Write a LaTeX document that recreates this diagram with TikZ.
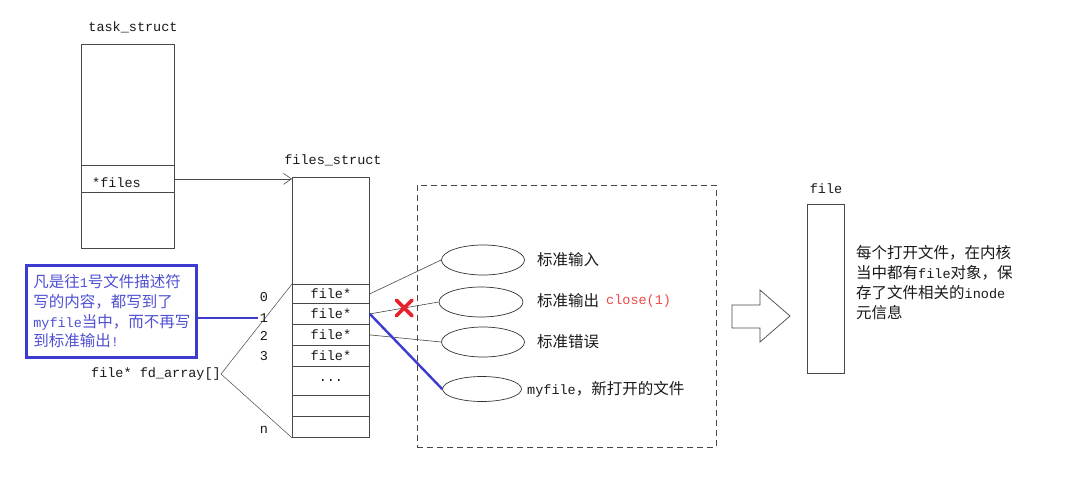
\documentclass[tikz,border=0pt]{standalone}
\usepackage{fontspec}
\setmainfont{Liberation Mono}
\newfontfamily\cjk{Noto Sans CJK SC}
\usetikzlibrary{shapes.geometric,shapes.misc,arrows.meta}
\newcommand\zh[1]{{\cjk\fontsize{15.5}{19.7}\selectfont #1}}
\newcommand\en[1]{{\fontsize{13.5}{19.7}\selectfont #1}}
\definecolor{lc}{HTML}{484848}
\definecolor{bl}{HTML}{3C3CD0}
\definecolor{bt}{HTML}{5050D4}
\definecolor{rd}{HTML}{E8202A}
\definecolor{rt}{HTML}{F04848}
\begin{document}
\begin{tikzpicture}[x=1pt,y=-1pt,
  box/.style={draw=lc, line width=0.8pt, inner sep=0pt, anchor=north west},
  row/.style={box, minimum width=77pt, font=\fontsize{13.5}{16}\selectfont, text=black!90},
  lbl/.style={inner sep=0pt, font=\fontsize{13.5}{16}\selectfont, text=black!90},
  txt/.style={inner sep=0pt, anchor=west, text=black!90},
  ell/.style={ellipse, draw=black!80, line width=0.7pt, inner sep=0pt},
  link/.style={draw=lc, line width=0.6pt},
  bluelink/.style={draw=bl, line width=2.4pt},
]
\useasboundingbox[fill=white] (0,0) rectangle (1092,485);

% task_struct
\node[lbl] (tst) at (133,27) {task\_struct};
\node[box, minimum width=93pt, minimum height=204pt] (ts) at (81,44) {};
\node[box, minimum width=93pt, minimum height=27pt] (tsf) at (81,165) {};
\node[lbl, anchor=west] (tsft) at (92,183) {*files};

% files_struct
\node[lbl] (fst) at (333,160) {files\_struct};
\node[box, minimum width=77pt, minimum height=260pt] (fs) at (292,177) {};
\node[row, minimum height=19pt] (r0) at (292,284) {file*};
\node[row, minimum height=21pt] (r1) at (292,303) {file*};
\node[row, minimum height=21pt] (r2) at (292,324) {file*};
\node[row, minimum height=21pt] (r3) at (292,345) {file*};
\node[row, minimum height=29pt] (rd) at (292,366) {...};
\node[row, minimum height=21pt] (r5) at (292,395) {};
\node[row, minimum height=21pt] (rn) at (292,416) {};

\draw[link, -{Straight Barb[length=8pt,width=11pt]}] (tsf.east) -- (fs.west |- tsf.east);

% indices
\node[lbl] (i0) at (264,297) {0};
\node[lbl] (i1) at (264,318) {1};
\node[lbl] (i2) at (264,336) {2};
\node[lbl] (i3) at (264,356) {3};
\node[lbl] (in) at (264,430) {n};

\node[lbl] (fa) at (156,374) {file* fd\_array[]};
\draw[link, line width=0.5pt] (fa.east) -- (r0.north west);
\draw[link, line width=0.5pt] (fa.east) -- (rn.south west);

% blue note
\node[draw=bl, line width=2.6pt, minimum width=170pt, minimum height=92pt, anchor=north west, inner sep=0pt, text width=156pt, align=left, text=bt, font=\fontsize{13.5}{19.7}\selectfont] (bb) at (25,264)
{\zh{凡是往}\en{1}\zh{号文件描述符}\\
 \zh{写的内容，都写到了}\\
 \en{myfile}\zh{当中，而不再写}\\
 \zh{到标准输出}\en{!}};
\draw[bluelink, shorten >=2pt] (bb.east |- i1.west) -- (i1.west);

% dashed region
\node[draw=lc, dash pattern=on 6pt off 4pt, line width=0.8pt, minimum width=299pt, minimum height=262pt, anchor=north west, inner sep=0pt] (db) at (417,185) {};

% ellipses
\node[ell, minimum width=83pt, minimum height=30pt] (e1) at (483,260) {};
\node[ell, minimum width=84pt, minimum height=30pt] (e2) at (481,302) {};
\node[ell, minimum width=83pt, minimum height=30pt] (e3) at (483,342) {};
\node[ell, minimum width=79pt, minimum height=25pt] (e4) at (482,389) {};

\node[txt] (t1) at (537,260) {\zh{标准输入}};
\node[txt] (t2) at (537,301) {\zh{标准输出}};
\node[txt, text=rt] (t2c) at (606,301) {\en{close(1)}};
\node[txt] (t3) at (537,342) {\zh{标准错误}};
\node[txt] (t4) at (527,389) {\en{myfile}\zh{，新打开的文件}};

% connectors
\draw[link] (r0.east) -- (e1.west);
\draw[link] (r1.east) -- node[cross out, draw=rd, line width=3.6pt, line cap=round, minimum size=12pt, inner sep=0pt, pos=0.5] (xx) {} (e2.west);
\draw[link] (r2.east) -- (e3.west);
\draw[bluelink] (r1.east) -- (e4.west);

% block arrow
\draw[draw=lc, line width=0.7pt] (732,305) -- (760,305) -- (760,290) -- (790,316) -- (760,342) -- (760,328) -- (732,328) -- cycle;

% file
\node[lbl] (flt) at (826,189) {file};
\node[box, minimum width=37pt, minimum height=169pt] (fb) at (807,204) {};
\node[txt, align=left, font=\fontsize{13.5}{20}\selectfont] (fbt) at (856,283)
{\zh{每个打开文件，在内核}\\
 \zh{当中都有}\en{file}\zh{对象，保}\\
 \zh{存了文件相关的}\en{inode}\\
 \zh{元信息}};
\end{tikzpicture}
\end{document}
